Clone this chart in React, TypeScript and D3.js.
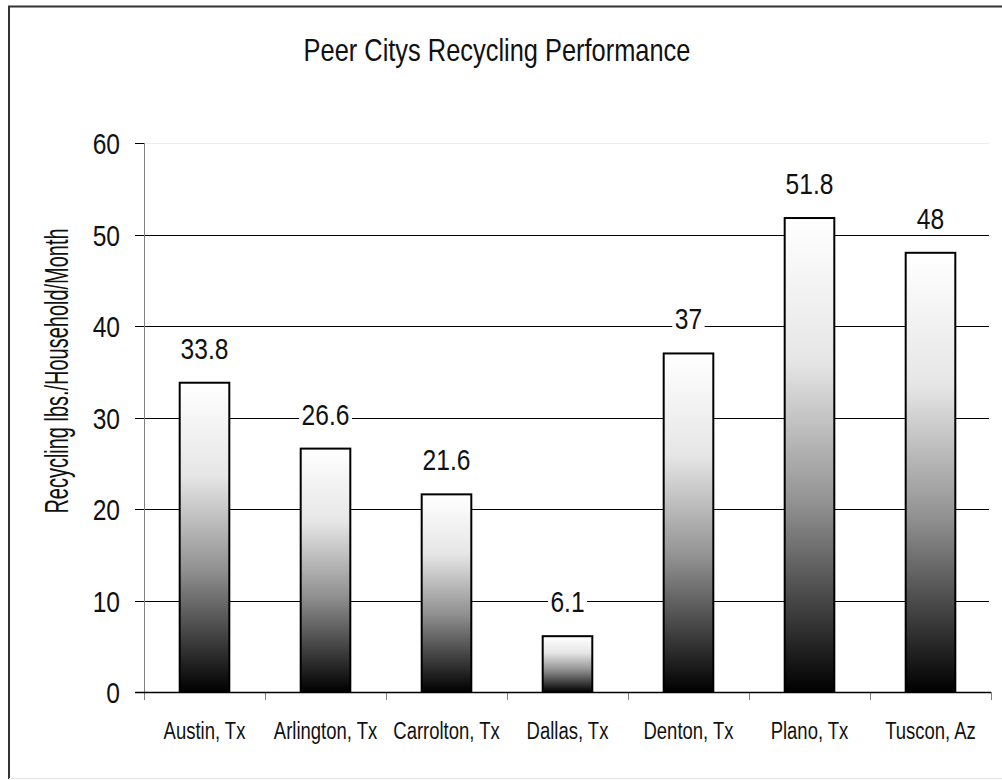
import { useEffect, useRef } from "react";
import * as d3 from "d3";

// chart data
const cities = ["Austin, Tx", "Arlington, Tx", "Carrolton, Tx", "Dallas, Tx", "Denton, Tx", "Plano, Tx", "Tuscon, Az"];
const pounds = [33.8, 26.6, 21.6, 6.1, 37, 51.8, 48];
const yTicks = [0, 10, 20, 30, 40, 50, 60];

const title = "Peer Citys Recycling Performance";
const yTitle = "Recycling lbs./Household/Month";

// no narrow font installed, so squeeze Liberation Sans horizontally
const FONT = "'Liberation Sans', Arial, sans-serif";
const NARROW = 0.82;

export default function App() {
    const svgRef = useRef<SVGSVGElement | null>(null);

    useEffect(() => {
        const svg = d3.select(svgRef.current);
        svg.selectAll("*").remove();

        const left = 144;
        const right = 991;
        const top = 143;
        const bottom = 692;

        const x = d3.scaleBand<string>()
            .domain(cities)
            .range([left, right])
            .paddingInner(0.59)
            .paddingOuter(0.295);

        const y = d3.scaleLinear()
            .domain([0, 60])
            .range([bottom, top]);

        // put a squeezed text at a spot
        const narrowText = (parent: any, tx: number, ty: number, size: number, str: string, sx = NARROW, anchor = "middle", rot = 0) => {
            return parent.append("text")
                .attr("transform", `translate(${tx},${ty}) rotate(${rot}) scale(${sx},1)`)
                .attr("text-anchor", anchor)
                .attr("font-family", FONT)
                .attr("font-size", size)
                .attr("fill", "#111")
                .text(str);
        };

        // gradient white at top to black at bottom
        const defs = svg.append("defs");
        const grad = defs.append("linearGradient")
            .attr("id", "bar-grad")
            .attr("x1", 0).attr("y1", 0)
            .attr("x2", 0).attr("y2", 1);
        grad.append("stop").attr("offset", "0%").attr("stop-color", "#ffffff");
        grad.append("stop").attr("offset", "30%").attr("stop-color", "#e6e6e6");
        grad.append("stop").attr("offset", "60%").attr("stop-color", "#929292");
        grad.append("stop").attr("offset", "100%").attr("stop-color", "#000000");

        // outer frame (left/top dark, bottom light)
        svg.append("path")
            .attr("d", "M9,779 L9,6.5 L1010,6.5")
            .attr("fill", "none")
            .attr("stroke", "#333")
            .attr("stroke-width", 2);
        svg.append("line")
            .attr("x1", 9).attr("x2", 1002)
            .attr("y1", 778.5).attr("y2", 778.5)
            .attr("stroke", "#e6e6e6");

        // title
        narrowText(svg, 497, 61, 31, title);

        // gridlines
        svg.append("g")
            .selectAll("line")
            .data(yTicks.filter(d => d > 0))
            .join("line")
            .attr("x1", left)
            .attr("x2", right - 2)
            .attr("y1", d => Math.round(y(d)) + 0.5)
            .attr("y2", d => Math.round(y(d)) + 0.5)
            .attr("stroke", d => (d === 60 ? "#ececec" : "#000"))
            .attr("stroke-width", 1);

        // y axis
        const yAxis = svg.append("g");
        yAxis.append("line")
            .attr("x1", left + 0.5).attr("x2", left + 0.5)
            .attr("y1", top).attr("y2", bottom)
            .attr("stroke", "#808080")
            .attr("stroke-width", 1);
        yAxis.selectAll("line.tick")
            .data(yTicks)
            .join("line")
            .attr("class", "tick")
            .attr("x1", left - 9)
            .attr("x2", left)
            .attr("y1", d => Math.round(y(d)) + 0.5)
            .attr("y2", d => Math.round(y(d)) + 0.5)
            .attr("stroke", "#000");
        yTicks.forEach(d => {
            narrowText(yAxis, 120, y(d) + 11, 30, String(d), NARROW, "end");
        });

        narrowText(svg, 68, 371, 33, yTitle, 0.605, "middle", -90);

        // x axis
        const step = x.step();
        const xAxis = svg.append("g");
        xAxis.selectAll("line.tick")
            .data(d3.range(cities.length + 1))
            .join("line")
            .attr("class", "tick")
            .attr("x1", i => Math.round(left + i * step) + 0.5)
            .attr("x2", i => Math.round(left + i * step) + 0.5)
            .attr("y1", bottom)
            .attr("y2", bottom + 8)
            .attr("stroke", "#808080");
        cities.forEach(c => {
            narrowText(xAxis, (x(c) as number) + x.bandwidth() / 2, 739, 24, c, 0.77);
        });

        // bars
        svg.append("g")
            .selectAll("rect")
            .data(pounds)
            .join("rect")
            .attr("x", (d, i) => x(cities[i]) as number)
            .attr("y", d => y(d))
            .attr("width", x.bandwidth())
            .attr("height", d => bottom - y(d))
            .attr("fill", "url(#bar-grad)")
            .attr("stroke", "#000")
            .attr("stroke-width", 2);

        xAxis.append("line")
            .attr("x1", left - 9).attr("x2", right)
            .attr("y1", bottom + 0.5).attr("y2", bottom + 0.5)
            .attr("stroke", "#000")
            .attr("stroke-width", 1.5);

        // value labels with white backing so gridlines break around them
        const labels = svg.append("g");
        pounds.forEach((v, i) => {
            const cx = (x(cities[i]) as number) + x.bandwidth() / 2;
            const g = labels.append("g")
                .attr("transform", `translate(${cx},${y(v) - 24}) scale(${NARROW},1)`);
            const bg = g.append("rect").attr("fill", "#fff");
            const t = g.append("text")
                .attr("text-anchor", "middle")
                .attr("font-family", FONT)
                .attr("font-size", 30)
                .attr("fill", "#111")
                .text(v);
            const b = (t.node() as SVGTextElement).getBBox();
            bg.attr("x", b.x - 3)
                .attr("y", b.y + 4)
                .attr("width", b.width + 6)
                .attr("height", b.height - 6);
        });
    }, []);

    return (
        <svg
            ref={svgRef}
            width={1002}
            height={780}
            style={{ position: "absolute", left: 0, top: 0, background: "#fff" }}
        />
    );
}
